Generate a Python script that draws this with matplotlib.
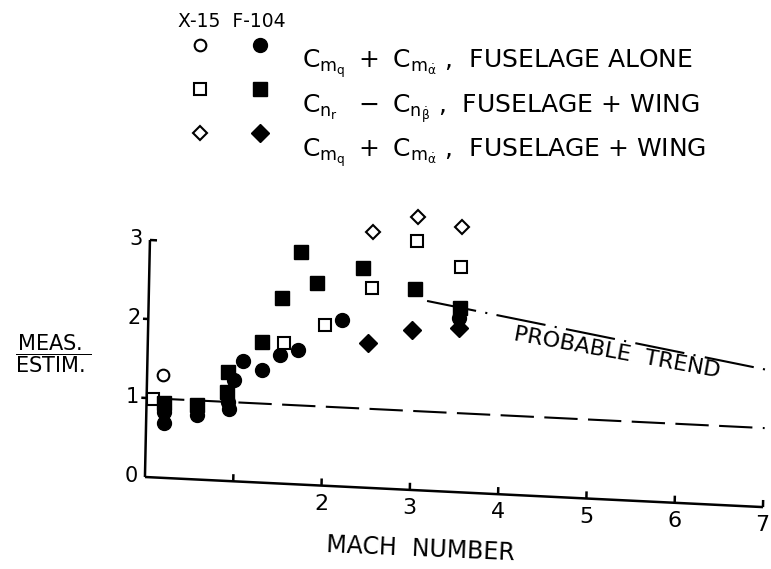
import numpy as np
import matplotlib
matplotlib.use("Agg")
import matplotlib.pyplot as plt
import matplotlib.transforms as mtransforms
from matplotlib.lines import Line2D
from matplotlib.legend_handler import HandlerLine2D, HandlerTuple

plt.rcParams['font.family'] = ['DejaVu Sans']
plt.rcParams['mathtext.fontset'] = 'dejavusans'
plt.rcParams['mathtext.default'] = 'regular'

# damping-derivative ratio, measured / estimated, against Mach number
# C_mq + C_m_alphadot, fuselage alone
x15_fus_mach = [0.18]
x15_fus_ratio = [1.30]
f104_fus_mach = [0.20, 0.20, 0.57, 0.92, 0.93, 0.99, 1.08, 1.30, 1.50, 1.70, 2.19, 3.52]
f104_fus_ratio = [0.69, 0.83, 0.82, 1.00, 0.91, 1.28, 1.53, 1.42, 1.63, 1.70, 2.11, 2.20]

# C_nr - C_n_betadot, fuselage + wing
x15_yaw_mach = [0.07, 1.54, 2.00, 2.52, 3.02, 3.53]
x15_yaw_ratio = [0.99, 1.78, 2.03, 2.53, 3.15, 2.85]
f104_yaw_mach = [0.20, 0.57, 0.91, 0.91, 1.29, 1.51, 1.71, 1.90, 2.42, 3.01, 3.52]
f104_yaw_ratio = [0.95, 0.94, 1.38, 1.13, 1.78, 2.35, 2.94, 2.56, 2.78, 2.54, 2.33]

# C_mq + C_m_alphadot, fuselage + wing
x15_pitch_mach = [2.52, 3.03, 3.53]
x15_pitch_ratio = [3.24, 3.46, 3.36]
f104_pitch_mach = [2.49, 2.99, 3.52]
f104_pitch_ratio = [1.83, 2.02, 2.08]

unity_mach = [0.05, 7.0]
unity_ratio = [1.0, 1.0]
trend_mach = [3.15, 7.0]
trend_ratio = [2.40, 1.74]

mach_ticks = [1, 2, 3, 4, 5, 6, 7]
mach_labels = [2, 3, 4, 5, 6, 7]
ratio_ticks = [0, 1, 2, 3]

labels = [
    r'$C_{m_q}\ +\ C_{m_{\dot{\alpha}}}$ ,  FUSELAGE ALONE',
    r'$C_{n_r}\ \ -\ C_{n_{\dot{\beta}}}$ ,  FUSELAGE + WING',
    r'$C_{m_q}\ +\ C_{m_{\dot{\alpha}}}$ ,  FUSELAGE + WING',
]


class RaisedMarker(HandlerLine2D):
    """Legend marker sitting a bit above the text line."""

    def __init__(self, lift, **kw):
        super().__init__(**kw)
        self.lift = lift

    def create_artists(self, legend, orig_handle, xdescent, ydescent,
                       width, height, fontsize, trans):
        arts = super().create_artists(legend, orig_handle, xdescent, ydescent,
                                      width, height, fontsize, trans)
        for a in arts:
            a.set_ydata(np.asarray(a.get_ydata()) + self.lift * fontsize)
        return arts


fig = plt.figure(figsize=(7.71, 5.69), dpi=100)
ax = fig.add_axes([0.188, 0.1617, 0.8016, 0.4165])
ax.set_xlim(0, mach_ticks[-1])
ax.set_ylim(0, ratio_ticks[-1])
ax.set_axis_off()

# the hand-drawn frame is slightly skewed: x axis droops, y axis leans right
ox, oy = ax.transData.transform((0, 0))
skew = (mtransforms.Affine2D().translate(-ox, -oy)
        + mtransforms.Affine2D(np.array([[1.0, 0.0211, 0.0],
                                         [-0.0487, 1.0, 0.0],
                                         [0.0, 0.0, 1.0]]))
        + mtransforms.Affine2D().translate(ox, oy))
tr = ax.transData + skew

ink = 'black'
frame = dict(color=ink, lw=1.8, transform=tr, clip_on=False, solid_capstyle='butt')
xmax, ymax = mach_ticks[-1], ratio_ticks[-1]
ax.plot([0, xmax], [0, 0], **frame)
ax.plot([0, 0], [0, ymax], **frame)
ax.plot([0, 0.08], [ymax, ymax], **frame)
for t in mach_ticks:
    ax.plot([t, t], [0, 0.09], **frame)
for t in ratio_ticks[1:-1]:
    ax.plot([-0.06, 0], [t, t], **frame)

for t in mach_labels:
    ax.text(t, -0.23, str(t), transform=tr, ha='center', va='center', fontsize=16)
for t in ratio_ticks:
    ax.text(-0.16, t, str(t), transform=tr, ha='center', va='center', fontsize=15)

# reference lines
ax.plot(unity_mach, unity_ratio, color=ink, lw=1.5, transform=tr,
        linestyle=(0, (16, 5)), clip_on=False)
ax.plot(trend_mach, trend_ratio, color=ink, lw=1.5, transform=tr,
        linestyle=(0, (24, 4.5, 1, 4.5)), clip_on=False)
ax.text(5.31, 1.86, 'PROBABLE  TREND', transform=tr, rotation=-10.3,
        ha='center', va='center', fontsize=16, rotation_mode='anchor')

pts = dict(linestyle='none', transform=tr, clip_on=False, zorder=3)
h_oc, = ax.plot(x15_fus_mach, x15_fus_ratio, 'o', ms=8.4, mfc='white', mec=ink, mew=1.5, **pts)
h_fc, = ax.plot(f104_fus_mach, f104_fus_ratio, 'o', ms=10, mfc=ink, mec=ink, **pts)
h_os, = ax.plot(x15_yaw_mach, x15_yaw_ratio, 's', ms=8.2, mfc='white', mec=ink, mew=1.5, **pts)
h_fs, = ax.plot(f104_yaw_mach, f104_yaw_ratio, 's', ms=9.6, mfc=ink, mec=ink, **pts)
h_od, = ax.plot(x15_pitch_mach, x15_pitch_ratio, 'D', ms=7.6, mfc='white', mec=ink, mew=1.5, **pts)
h_fd, = ax.plot(f104_pitch_mach, f104_pitch_ratio, 'D', ms=9.2, mfc=ink, mec=ink, **pts)

fig.text(0.069, 0.378, r'$\dfrac{MEAS.}{ESTIM.}$', ha='center', va='center', fontsize=15)
fig.text(0.545, 0.035, 'MACH  NUMBER', ha='center', va='center', fontsize=17, rotation=-2.5)

# key: open symbols X-15, filled symbols F-104
fig.text(0.231, 0.963, 'X-15  F-104', ha='left', va='center', fontsize=13.5)
leg = fig.legend([(h_oc, h_fc), (h_os, h_fs), (h_od, h_fd)], labels,
                 loc='upper left', bbox_to_anchor=(0.22, 0.916), frameon=False,
                 fontsize=18, handlelength=4.8, handletextpad=0.5,
                 labelspacing=0.46, borderpad=0, borderaxespad=0,
                 handler_map={Line2D: RaisedMarker(0.6),
                              tuple: HandlerTuple(ndivide=None, pad=0)})

fig.savefig('out.png', dpi=100)
